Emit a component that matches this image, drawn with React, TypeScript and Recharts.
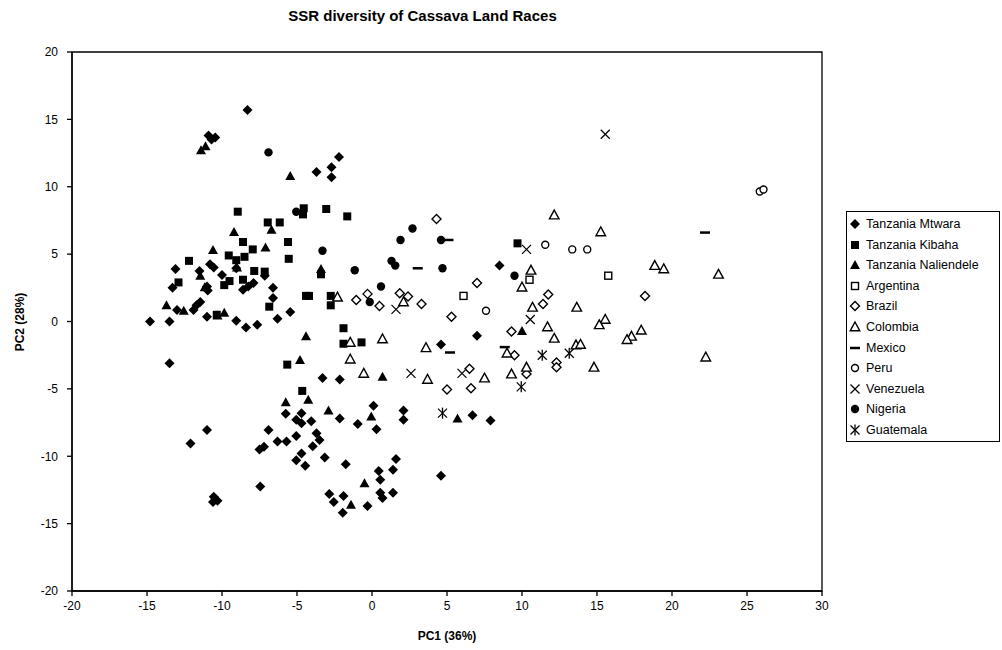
import React from 'react';
import { ScatterChart, Scatter, XAxis, YAxis, ReferenceArea } from 'recharts';

type Pt = { x: number; y: number };
const pts = (arr: number[][]): Pt[] => arr.map(([x, y]) => ({ x, y }));

// PC1 / PC2 scores, one list per origin
const mtwara = pts([
  [-8.3, 15.7], [-10.9, 13.8], [-10.45, 13.65], [-10.7, 13.5],
  [-2.2, 12.2], [-2.7, 11.45], [-3.7, 11.1], [-2.7, 10.7],
  [-14.8, 0], [-13.5, 0], [-13.5, -3.1], [-13.1, 3.9], [-13.3, 2.5], [-13, 0.85], [-11.9, 0.85],
  [-11.7, 1.2], [-11.45, 1.45], [-11.5, 3.75], [-11, 0.35], [-11, 2.6], [-10.95, 2.3], [-10.8, 4.25],
  [-10.55, 4], [-10, 3.45], [-9.05, 0.05], [-8.4, -0.45], [-7.65, -0.25], [-6.6, 2.5], [-6.6, 1.75],
  [-6.3, 0.2], [-5.45, 0.7], [-8.6, 2.35], [-8.25, 2.6], [-7.9, 2.85], [-7.15, 3.4], [-9.05, 3.95],
  [-3.3, -4.2], [-2.15, -4.3], [-5.75, -6.85], [-4.7, -6.8], [-5.05, -7.3], [-4.7, -7.55], [-4.05, -7.4],
  [-6.9, -8.05], [-6.3, -8.9], [-5.7, -8.9], [-5.05, -8.5], [-3.7, -8.3], [-3.5, -8.8], [-3.95, -9.25],
  [-7.5, -9.5], [-7.2, -9.3], [-4.7, -9.8], [-5.05, -10.3], [-4.45, -10.7], [-3.15, -10.1], [-1.75, -10.6],
  [-7.45, -12.25], [-12.1, -9.05], [-11, -8.05], [-10.55, -13], [-10.6, -13.4], [-10.3, -13.3],
  [-2.15, -7.2], [-0.95, -7.6], [0.1, -6.25], [0.3, -8], [2.1, -6.6], [2.1, -7.3], [1.6, -10.2],
  [1.4, -11], [0.45, -11.1], [0.55, -11.75], [-2.85, -12.8], [-1.9, -12.95], [-2.55, -13.4],
  [-1.95, -14.2], [-0.3, -13.7], [0.55, -12.7], [0.7, -13.1], [1.4, -12.7],
  [4.6, -1.7], [7, -1.05], [8.5, 4.15], [6.7, -6.95], [7.9, -7.35], [4.6, -11.45],
]);
const kibaha = pts([
  [-8.95, 8.15], [-6.95, 7.35], [-6.15, 7.35], [-4.55, 8.4], [-4.6, 7.95], [-3.05, 8.35], [-1.65, 7.8],
  [-8.6, 5.9], [-7.95, 5.35], [-5.6, 5.9], [-5.55, 4.65], [-12.2, 4.5], [-9.55, 4.9], [-9.05, 4.55],
  [-8.5, 4.8], [-7.85, 3.75], [-7.15, 3.7], [-9.5, 3], [-9.85, 2.7], [-8.6, 3.1], [-12.9, 2.9],
  [-6.85, 1.1], [-4.4, 1.9], [-10.35, 0.5], [-3.4, 3.5], [-4.2, 1.9], [-2.75, 1.9], [-2.75, 1.2],
  [-1.9, -0.5], [-1.9, -1.65], [-0.7, -1.55], [9.7, 5.8], [-5.65, -3.2], [-4.65, -5.15],
]);
const naliendele = pts([
  [-11.4, 12.7], [-11.1, 13], [-5.45, 10.8], [-9.2, 6.65], [-6.7, 6.8], [-7.1, 5.5], [-10.6, 5.3],
  [-11.45, 3.4], [-11.15, 2.55], [-13.7, 1.2], [-12.55, 0.8], [-10.3, 0.45], [-9.85, 0.65], [-9, 4],
  [-4.4, -1.1], [-4.8, -2.85], [0.7, -4.1], [-5.75, -6], [-4.25, -5.8], [-2.9, -6.6], [-0.05, -7.05],
  [5.7, -7.2], [-0.5, -12], [-1.4, -13.6], [10, -0.7], [-3.4, 3.9],
]);
const argentina = pts([[6.1, 1.9], [10.5, 3.1], [15.75, 3.4]]);
const brazil = pts([
  [4.3, 7.6], [-1.05, 1.6], [-0.3, 2.05], [0.5, 1.15], [1.85, 2.1], [2.4, 1.85], [3.3, 1.3], [5.3, 0.35],
  [7, 2.85], [9.3, -0.75], [11.4, 1.3], [11.75, 2], [6.5, -3.5], [5, -5.05], [6.6, -4.95], [9.5, -2.5],
  [12.3, -3.05], [12.3, -3.4], [10.3, -3.9], [18.2, 1.9],
]);
const colombia = pts([
  [12.15, 7.9], [-2.3, 1.8], [2.1, 1.45], [-1.45, -1.55], [0.7, -1.3], [10.6, 3.8], [10, 2.55], [10.7, 1.05],
  [11.7, -0.4], [12.15, -1.25], [3.6, -1.95], [-1.45, -2.8], [-0.55, -3.85], [3.7, -4.3], [7.5, -4.2],
  [9.3, -3.9], [10.3, -3.4], [9, -2.35], [13.65, 1.05], [13.6, -1.75], [13.9, -1.7], [15.25, 6.65],
  [18.85, 4.15], [19.45, 3.9], [23.1, 3.5], [15.55, 0.15], [15.15, -0.25], [17.95, -0.65], [17.3, -1.1],
  [17, -1.35], [14.8, -3.4], [22.25, -2.65],
]);
const mexico = pts([[5.1, 6.05], [3.05, 3.95], [5.2, -2.3], [8.85, -1.9], [22.2, 6.6]]);
const peru = pts([[11.55, 5.7], [7.6, 0.8], [13.35, 5.35], [14.35, 5.35], [25.85, 9.65], [26.1, 9.8]]);
const venezuela = pts([[15.55, 13.9], [10.3, 5.35], [1.6, 0.9], [10.55, 0.15], [2.6, -3.85], [6, -3.85]]);
const nigeria = pts([
  [-6.9, 12.55], [-5.05, 8.15], [2.7, 6.9], [1.9, 6.05], [4.6, 6.05], [-3.3, 5.25], [-1.15, 3.8],
  [1.3, 4.5], [1.55, 4.15], [4.7, 3.95], [0.6, 2.6], [-0.15, 1.45], [9.5, 3.4],
]);
const guatemala = pts([[4.7, -6.8], [11.35, -2.5], [9.95, -4.85], [13.15, -2.35]]);

const xTicks = [-20, -15, -10, -5, 0, 5, 10, 15, 20, 25, 30];
const yTicks = [-20, -15, -10, -5, 0, 5, 10, 15, 20];

type Kind = 'fdiamond' | 'fsquare' | 'ftri' | 'osquare' | 'odiamond' | 'otri' | 'dash' | 'ocircle' | 'cross' | 'fcircle' | 'star';

const Marker = ({ kind, cx, cy }: { kind: Kind; cx: number; cy: number }) => {
  const k = '#000';
  switch (kind) {
    case 'fdiamond':
      return <polygon points={`${cx},${cy - 5} ${cx + 5},${cy} ${cx},${cy + 5} ${cx - 5},${cy}`} fill={k} />;
    case 'fsquare':
      return <rect x={cx - 4} y={cy - 4} width={8} height={8} fill={k} />;
    case 'ftri':
      return <polygon points={`${cx},${cy - 5} ${cx + 5},${cy + 4} ${cx - 5},${cy + 4}`} fill={k} />;
    case 'osquare':
      return <rect x={cx - 3.5} y={cy - 3.5} width={7} height={7} fill="#fff" stroke={k} strokeWidth={1.4} />;
    case 'odiamond':
      return <polygon points={`${cx},${cy - 4.5} ${cx + 4.5},${cy} ${cx},${cy + 4.5} ${cx - 4.5},${cy}`} fill="#fff" stroke={k} strokeWidth={1.4} />;
    case 'otri':
      return <polygon points={`${cx},${cy - 5} ${cx + 4.8},${cy + 3.8} ${cx - 4.8},${cy + 3.8}`} fill="#fff" stroke={k} strokeWidth={1.4} />;
    case 'dash':
      return <line x1={cx - 5} y1={cy} x2={cx + 5} y2={cy} stroke={k} strokeWidth={2.5} />;
    case 'ocircle':
      return <circle cx={cx} cy={cy} r={3.5} fill="#fff" stroke={k} strokeWidth={1.4} />;
    case 'cross':
      return (
        <g stroke={k} strokeWidth={1.3}>
          <line x1={cx - 4.5} y1={cy - 4.5} x2={cx + 4.5} y2={cy + 4.5} />
          <line x1={cx - 4.5} y1={cy + 4.5} x2={cx + 4.5} y2={cy - 4.5} />
        </g>
      );
    case 'fcircle':
      return <circle cx={cx} cy={cy} r={4.2} fill={k} />;
    case 'star':
      return (
        <g stroke={k} strokeWidth={1.3}>
          <line x1={cx - 4.5} y1={cy - 4.5} x2={cx + 4.5} y2={cy + 4.5} />
          <line x1={cx - 4.5} y1={cy + 4.5} x2={cx + 4.5} y2={cy - 4.5} />
          <line x1={cx} y1={cy - 5.5} x2={cx} y2={cy + 5.5} />
        </g>
      );
  }
  return null;
};

const series: { name: string; data: Pt[]; kind: Kind }[] = [
  { name: 'Tanzania Mtwara', data: mtwara, kind: 'fdiamond' },
  { name: 'Tanzania Kibaha', data: kibaha, kind: 'fsquare' },
  { name: 'Tanzania Naliendele', data: naliendele, kind: 'ftri' },
  { name: 'Argentina', data: argentina, kind: 'osquare' },
  { name: 'Brazil', data: brazil, kind: 'odiamond' },
  { name: 'Colombia', data: colombia, kind: 'otri' },
  { name: 'Mexico', data: mexico, kind: 'dash' },
  { name: 'Peru', data: peru, kind: 'ocircle' },
  { name: 'Venezuela', data: venezuela, kind: 'cross' },
  { name: 'Nigeria', data: nigeria, kind: 'fcircle' },
  { name: 'Guatemala', data: guatemala, kind: 'star' },
];

const font = '"Liberation Sans", Arial, sans-serif';
const tickStyle = { fontSize: 12, fill: '#000', fontFamily: font };

export default function App() {
  return (
    <div style={{ position: 'absolute', left: 0, top: 0, width: 1002, height: 650, background: '#fff', fontFamily: font }}>
      <div style={{ position: 'absolute', left: 0, width: 845, top: 7, textAlign: 'center', fontSize: 15, fontWeight: 'bold' }}>
        SSR diversity of Cassava Land Races
      </div>
      <ScatterChart width={1002} height={650} margin={{ top: 52, right: 180, bottom: 29, left: 12 }}>
        <XAxis
          type="number"
          dataKey="x"
          domain={[-20, 30]}
          ticks={xTicks}
          interval={0}
          allowDataOverflow
          stroke="#000"
          strokeWidth={1.3}
          tick={tickStyle}
          tickSize={5}
          tickMargin={5}
          height={30}
        />
        <YAxis
          type="number"
          dataKey="y"
          domain={[-20, 20]}
          ticks={yTicks}
          interval={0}
          allowDataOverflow
          stroke="#000"
          strokeWidth={1.3}
          tick={tickStyle}
          tickSize={5}
          tickMargin={9}
          width={60}
        />
        <ReferenceArea x1={-20} x2={30} y1={-20} y2={20} fill="none" stroke="#000" strokeWidth={1.3} fillOpacity={0} />
        {series.map((s) => (
          <Scatter
            key={s.name}
            name={s.name}
            data={s.data}
            isAnimationActive={false}
            shape={(p: any) => <Marker kind={s.kind} cx={p.cx} cy={p.cy} />}
          />
        ))}
      </ScatterChart>
      <div style={{ position: 'absolute', left: 5, top: 322, transform: 'translate(-50%, -50%) rotate(-90deg)', transformOrigin: 'center', marginLeft: 15, fontSize: 12, fontWeight: 'bold', whiteSpace: 'nowrap' }}>
        PC2 (28%)
      </div>
      <div style={{ position: 'absolute', left: 72, width: 750, top: 629, textAlign: 'center', fontSize: 12, fontWeight: 'bold' }}>
        PC1 (36%)
      </div>
      <div style={{ position: 'absolute', left: 846, top: 211, width: 152, height: 229, border: '1px solid #000', fontSize: 12.5 }}>
        {series.map((s, i) => (
          <div key={s.name} style={{ position: 'absolute', left: 0, top: 4 + i * 20.6, height: 16, display: 'flex', alignItems: 'center' }}>
            <svg width={16} height={14} style={{ marginLeft: 1 }}>
              <Marker kind={s.kind} cx={7} cy={7} />
            </svg>
            <span style={{ marginLeft: 2 }}>{s.name}</span>
          </div>
        ))}
      </div>
    </div>
  );
}
